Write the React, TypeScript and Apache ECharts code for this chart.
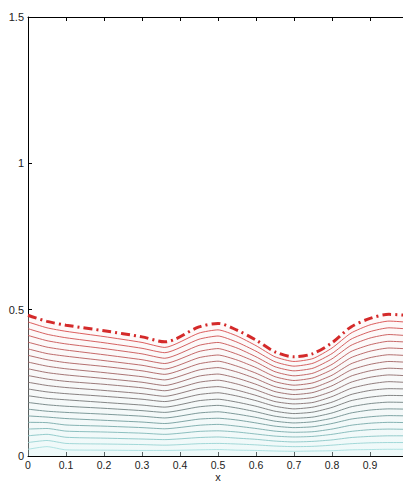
import React, { useEffect, useRef } from "react";
import * as echarts from "echarts";

// x positions where curves were read
const xPositions = [0, 0.05, 0.1, 0.2, 0.3, 0.36, 0.45, 0.5, 0.55, 0.6, 0.65, 0.7, 0.75, 0.8, 0.85, 0.9, 0.95, 1.0];

// thick dash-dot top curve
const surfaceLine = [0.481, 0.46, 0.447, 0.428, 0.407, 0.39, 0.441, 0.453, 0.43, 0.396, 0.356, 0.339, 0.35, 0.387, 0.441, 0.47, 0.484, 0.48];

// contour lines, from bottom (1) to top (20)
const contourLines = [
  [0.023, 0.032, 0.021, 0.020, 0.019, 0.019, 0.021, 0.022, 0.020, 0.019, 0.017, 0.016, 0.017, 0.018, 0.021, 0.022, 0.023, 0.023],
  [0.046, 0.053, 0.043, 0.041, 0.039, 0.037, 0.042, 0.043, 0.041, 0.038, 0.034, 0.032, 0.033, 0.037, 0.042, 0.045, 0.046, 0.046],
  [0.069, 0.074, 0.064, 0.061, 0.058, 0.056, 0.063, 0.065, 0.061, 0.057, 0.051, 0.048, 0.050, 0.055, 0.063, 0.067, 0.069, 0.069],
  [0.092, 0.094, 0.085, 0.082, 0.078, 0.074, 0.084, 0.086, 0.082, 0.075, 0.068, 0.065, 0.067, 0.074, 0.084, 0.090, 0.092, 0.091],
  [0.115, 0.114, 0.106, 0.102, 0.097, 0.093, 0.105, 0.108, 0.102, 0.094, 0.085, 0.081, 0.083, 0.092, 0.105, 0.112, 0.115, 0.114],
  [0.137, 0.133, 0.128, 0.122, 0.116, 0.111, 0.126, 0.129, 0.123, 0.113, 0.102, 0.097, 0.100, 0.111, 0.126, 0.134, 0.138, 0.137],
  [0.160, 0.153, 0.149, 0.143, 0.136, 0.130, 0.147, 0.151, 0.143, 0.132, 0.119, 0.113, 0.117, 0.129, 0.147, 0.157, 0.161, 0.160],
  [0.183, 0.175, 0.170, 0.163, 0.155, 0.149, 0.168, 0.173, 0.164, 0.151, 0.136, 0.129, 0.133, 0.147, 0.168, 0.179, 0.184, 0.183],
  [0.206, 0.197, 0.192, 0.183, 0.174, 0.167, 0.189, 0.194, 0.184, 0.170, 0.153, 0.145, 0.150, 0.166, 0.189, 0.201, 0.207, 0.206],
  [0.229, 0.219, 0.213, 0.204, 0.194, 0.186, 0.210, 0.216, 0.205, 0.189, 0.170, 0.161, 0.167, 0.184, 0.210, 0.224, 0.230, 0.229],
  [0.252, 0.241, 0.234, 0.224, 0.213, 0.204, 0.231, 0.237, 0.225, 0.207, 0.186, 0.178, 0.183, 0.203, 0.231, 0.246, 0.254, 0.251],
  [0.275, 0.263, 0.255, 0.245, 0.233, 0.223, 0.252, 0.259, 0.246, 0.226, 0.203, 0.194, 0.200, 0.221, 0.252, 0.269, 0.277, 0.274],
  [0.298, 0.285, 0.277, 0.265, 0.252, 0.241, 0.273, 0.280, 0.266, 0.245, 0.220, 0.210, 0.217, 0.240, 0.273, 0.291, 0.300, 0.297],
  [0.321, 0.307, 0.298, 0.285, 0.271, 0.260, 0.294, 0.302, 0.287, 0.264, 0.237, 0.226, 0.233, 0.258, 0.294, 0.313, 0.323, 0.320],
  [0.344, 0.329, 0.319, 0.306, 0.291, 0.279, 0.315, 0.324, 0.307, 0.283, 0.254, 0.242, 0.250, 0.276, 0.315, 0.336, 0.346, 0.343],
  [0.366, 0.350, 0.341, 0.326, 0.310, 0.297, 0.336, 0.345, 0.328, 0.302, 0.271, 0.258, 0.267, 0.295, 0.336, 0.358, 0.369, 0.366],
  [0.389, 0.372, 0.362, 0.346, 0.329, 0.316, 0.357, 0.367, 0.348, 0.321, 0.288, 0.274, 0.283, 0.313, 0.357, 0.380, 0.392, 0.389],
  [0.412, 0.394, 0.383, 0.367, 0.349, 0.334, 0.378, 0.388, 0.369, 0.339, 0.305, 0.291, 0.300, 0.332, 0.378, 0.403, 0.415, 0.411],
  [0.435, 0.416, 0.404, 0.387, 0.368, 0.353, 0.399, 0.410, 0.389, 0.358, 0.322, 0.307, 0.317, 0.350, 0.399, 0.425, 0.438, 0.434],
  [0.458, 0.438, 0.426, 0.408, 0.388, 0.371, 0.420, 0.431, 0.410, 0.377, 0.339, 0.323, 0.333, 0.369, 0.420, 0.448, 0.461, 0.457],
];

const contourColors = [
  "#a8e0e0", "#98d4d4", "#8ac6c6", "#80b8b8", "#78aaaa",
  "#729c9c", "#708e8e", "#728282", "#767878", "#7a7474",
  "#847070", "#8e6c6c", "#986868", "#a26464", "#ac6060",
  "#b65c5c", "#c05858", "#c85454", "#d05050", "#d84c4c",
];

const xTicks = { min: 0, max: 1, interval: 0.1 };
const yTicks = { min: 0, max: 1.5, interval: 0.5 };
const xAxisTitle = "x";

export default function App() {
  const ref = useRef<HTMLDivElement>(null);

  useEffect(() => {
    if (!ref.current) return;
    const chart = echarts.init(ref.current, null, { renderer: "svg" });

    const pair = (ys: number[]) => xPositions.map((x, i) => [x, ys[i]]);

    const series: any[] = [];
    series.push({
      type: "line",
      data: pair(surfaceLine),
      symbol: "none",
      smooth: 0.3,
      lineStyle: { width: 0 },
      areaStyle: {
        color: new echarts.graphic.LinearGradient(0, 0, 0, 1, [
          { offset: 0, color: "rgba(255,236,236,0.45)" },
          { offset: 1, color: "rgba(215,242,242,0.6)" },
        ]),
        origin: "start",
      },
      silent: true,
      z: 1,
    });
    contourLines.forEach((ys, k) => {
      series.push({
        type: "line",
        data: pair(ys),
        symbol: "none",
        smooth: 0.2,
        lineStyle: { color: contourColors[k], width: 0.9 },
        silent: true,
        z: 2,
      });
    });
    series.push({
      type: "line",
      data: pair(surfaceLine),
      symbol: "none",
      smooth: 0.3,
      lineStyle: { color: "#d42a2a", width: 3, type: [9, 4, 2, 4] },
      silent: true,
      z: 3,
    });

    const axisLine = { show: true, lineStyle: { color: "#000", width: 1 } };
    const label = { color: "#222", fontSize: 11, fontFamily: "Liberation Sans, Arial, sans-serif" };

    chart.setOption({
      animation: false,
      backgroundColor: "#fff",
      grid: {
        left: 28,
        top: 17,
        width: 380,
        height: 439,
        containLabel: false,
        outerBoundsMode: "none",
      },
      graphic: [
        {
          type: "text",
          x: 218,
          y: 476.5,
          style: {
            text: xAxisTitle,
            fill: "#222",
            fontSize: 11,
            lineHeight: 9,
            fontFamily: "Liberation Sans, Arial, sans-serif",
            textAlign: "center",
            textVerticalAlign: "middle",
          },
        },
      ],
      xAxis: [
        {
          type: "value",
          ...xTicks,
          position: "bottom",
          axisLine,
          axisTick: { show: true, inside: true, length: 4, lineStyle: { color: "#000" } },
          axisLabel: { ...label, fontSize: 10.5, lineHeight: 10, margin: 4, showMaxLabel: false },
          splitLine: { show: false },
        },
        {
          type: "value",
          ...xTicks,
          position: "top",
          axisLine,
          axisTick: { show: true, inside: true, length: 4, lineStyle: { color: "#000" } },
          axisLabel: { show: false },
          splitLine: { show: false },
        },
      ],
      yAxis: [
        {
          type: "value",
          ...yTicks,
          position: "left",
          axisLine,
          axisTick: { show: true, inside: true, length: 4, lineStyle: { color: "#000" } },
          axisLabel: { ...label, margin: 4 },
          splitLine: { show: false },
        },
      ],
      series,
    });

    return () => chart.dispose();
  }, []);

  return (
    <div
      ref={ref}
      style={{ position: "absolute", left: 0, top: 0, width: 403, height: 481 }}
    />
  );
}
